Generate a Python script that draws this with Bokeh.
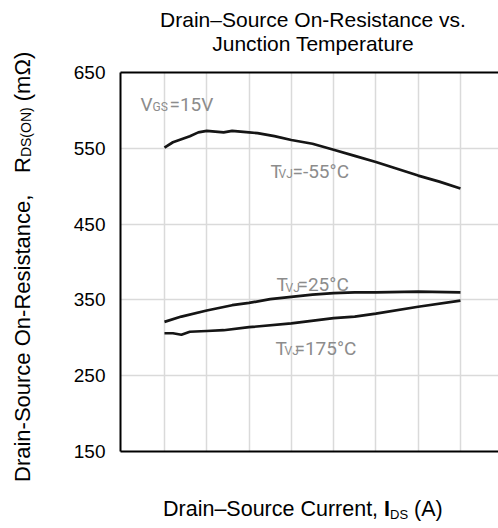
from bokeh.plotting import figure
from bokeh.models import Label, FixedTicker, Range1d, LinearAxis, Div
from bokeh.layouts import row, column
from bokeh.embed import file_html
from bokeh.resources import INLINE

# ---- data ----
x_m55 = [5, 6, 7, 8, 9, 10, 11, 12, 13, 15, 16, 18, 20, 22.5, 25, 27.5, 30, 32.5, 35, 37.5, 40]
r_m55 = [551, 558, 562, 566, 571, 573, 572, 571, 573, 571, 570, 566, 561, 556, 548, 540, 532, 523, 514, 506, 497]
x_25 = [5, 7, 10, 13, 15, 17.5, 20, 22.5, 25, 27.5, 30, 35, 40]
r_25 = [321, 328, 336, 343, 346, 351, 354, 357, 359, 360, 360, 361, 360]
x_175 = [5, 6, 7, 8, 10, 12, 15, 20, 25, 27.5, 30, 35, 40]
r_175 = [306, 306, 304, 308, 309, 310, 314, 319, 326, 328, 332, 341, 349]
y_ticks = [150, 250, 350, 450, 550, 650]
x_grid = [5, 10, 15, 20, 25, 30, 35, 40]

title_lines = ["Drain\u2013Source On-Resistance vs.", "Junction Temperature"]

FONT = "Liberation Sans"
ANN_FONT = "Roboto"
ANN_COLOR = "#8c8c8c"
LINE_COLOR = "#151515"
GRID_COLOR = "#dadada"

# ---- figure ----
p = figure(width=458, height=424,
           x_range=Range1d(-0.2, 44.5), y_range=Range1d(150, 650),
           output_backend="svg", toolbar_location=None,
           min_border_left=80, min_border_right=0,
           min_border_top=16, min_border_bottom=29, margin=0)
p.outline_line_color = None
p.background_fill_color = "white"
p.border_fill_color = "white"

# left axis with tick labels
p.yaxis.ticker = FixedTicker(ticks=y_ticks)
p.yaxis.major_tick_line_color = None
p.yaxis.minor_tick_line_color = None
p.yaxis.major_tick_out = 0
p.yaxis.major_tick_in = 0
p.yaxis.axis_line_color = "black"
p.yaxis.axis_line_width = 2
p.yaxis.major_label_text_font = FONT
p.yaxis.major_label_text_font_size = "19px"
p.yaxis.major_label_text_color = "#000000"
p.yaxis.major_label_standoff = 15

# bottom axis: line only
p.xaxis.ticker = FixedTicker(ticks=[])
p.xaxis.major_tick_line_color = None
p.xaxis.minor_tick_line_color = None
p.xaxis.major_tick_out = 0
p.xaxis.axis_line_color = "black"
p.xaxis.axis_line_width = 2

# top border line
top_axis = LinearAxis(ticker=FixedTicker(ticks=[]), axis_line_color="black", axis_line_width=2,
                      major_tick_line_color=None, minor_tick_line_color=None,
                      major_tick_out=0, major_label_standoff=0)
p.add_layout(top_axis, "above")

p.xgrid.ticker = FixedTicker(ticks=x_grid)
p.ygrid.ticker = FixedTicker(ticks=y_ticks)
for g in (p.xgrid, p.ygrid):
    g.grid_line_color = GRID_COLOR
    g.grid_line_width = 1.5

for xs, ys in ((x_m55, r_m55), (x_25, r_25), (x_175, r_175)):
    p.line(xs, ys, line_color=LINE_COLOR, line_width=2.7)


def lab(text, x, y, size):
    p.add_layout(Label(text=text, x=x, y=y, x_units="screen", y_units="screen",
                       text_font=ANN_FONT, text_font_size=size, text_color=ANN_COLOR,
                       text_align="left", text_baseline="alphabetic"))


# curve annotations (positions relative to the plot frame)
lab("V", 20, 347, "19px")
lab("GS", 32, 345, "12px")
lab("=15V", 49, 347, "19px")

lab("T", 150, 280, "19px")
lab("VJ", 158, 278, "12px")
lab("=-55\u00b0C", 172, 280, "19px")

lab("T", 156, 167, "19px")
lab("VJ", 165, 164, "12px")
lab("=25\u00b0C", 177, 167, "19px")

lab("T", 155, 103, "19px")
lab("VJ", 164, 101, "12px")
lab("=175\u00b0C", 174, 103, "19px")

# ---- title, axis labels as real HTML text around the figure ----
base = "font-family:'Liberation Sans',Arial,sans-serif;color:#000;white-space:nowrap;"

title_html = (
    f'<div style="position:relative;width:458px;height:56px;{base}font-size:21px;">'
    '<div style="position:absolute;left:73px;width:400px;top:8px;line-height:23.5px;text-align:center;">'
    f'{title_lines[0]}<br>{title_lines[1]}</div>'
    '</div>'
)
title_div = Div(text=title_html, width=458, height=56, margin=0)

xlab_html = (
    f'<div style="position:relative;width:458px;height:48px;{base}font-size:21.5px;">'
    '<div style="position:absolute;left:123px;top:17px;line-height:24px;">Drain\u2013Source Current, '
    '<b>I</b><span style="font-size:13px;vertical-align:-3px;line-height:0;">DS</span> (A)</div>'
    '</div>'
)
xlab_div = Div(text=xlab_html, width=458, height=48, margin=0)

rot = "position:absolute;left:10px;transform-origin:0 0;transform:rotate(-90deg);line-height:26px;"
ylab_html = (
    f'<div style="position:relative;width:40px;height:528px;{base}font-size:22px;">'
    f'<div style="{rot}top:482px;">Drain-Source On-Resistance,</div>'
    f'<div style="{rot}top:173px;">R<span style="font-size:14px;vertical-align:-1px;line-height:0;">DS(ON)</span> (m\u03a9)</div>'
    '</div>'
)
ylab_div = Div(text=ylab_html, width=40, height=528, margin=0)

layout = row(ylab_div, column(title_div, p, xlab_div, spacing=0), spacing=0)

open("out.html", "w").write(file_html(layout, INLINE))
